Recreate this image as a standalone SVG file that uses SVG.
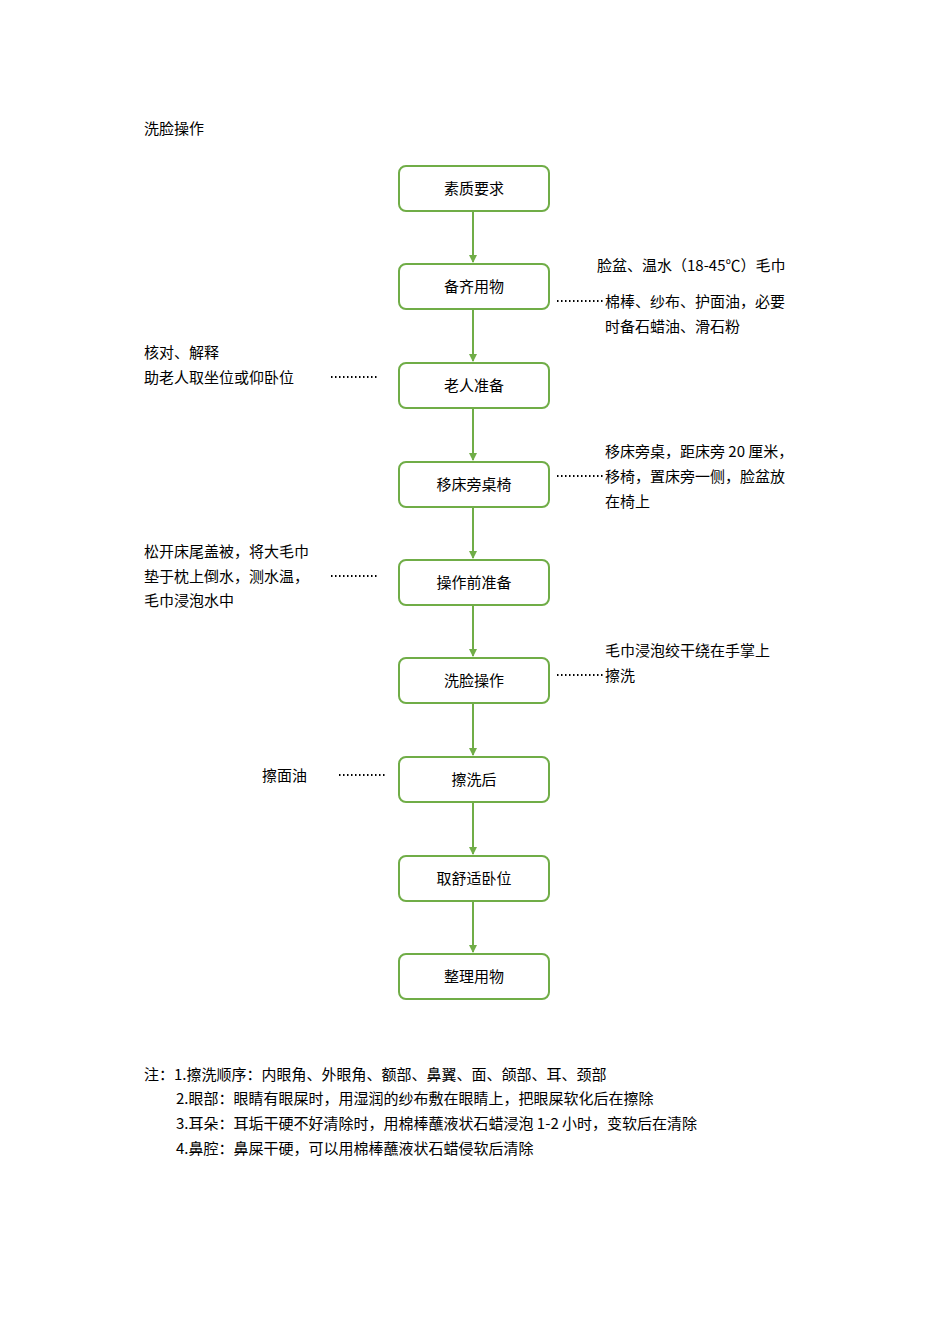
<svg xmlns="http://www.w3.org/2000/svg" width="950" height="1344" viewBox="0 0 950 1344">
<style>
text{font-family:"Noto Sans CJK SC","Liberation Sans",sans-serif;font-size:15px;fill:#000}
.n rect{fill:#fff;stroke:#70ad47;stroke-width:2}
.n text{text-anchor:middle}
.c line{stroke:#70ad47;stroke-width:2}
.d line{stroke:#000;stroke-width:2;stroke-dasharray:1.5 2.5}
</style>
<defs><marker id="a" markerWidth="8" markerHeight="8" refX="7" refY="4" orient="auto" markerUnits="userSpaceOnUse"><path d="M0,0L8,4L0,8z" fill="#70ad47"/></marker></defs>
<rect width="950" height="1344" fill="#fff"/>
<text x="144" y="134">洗脸操作</text>
<g class="c">
<line x1="473" y1="212" x2="473" y2="262" marker-end="url(#a)"/>
<line x1="473" y1="310" x2="473" y2="361" marker-end="url(#a)"/>
<line x1="473" y1="409" x2="473" y2="460" marker-end="url(#a)"/>
<line x1="473" y1="508" x2="473" y2="558" marker-end="url(#a)"/>
<line x1="473" y1="606" x2="473" y2="656" marker-end="url(#a)"/>
<line x1="473" y1="704" x2="473" y2="755" marker-end="url(#a)"/>
<line x1="473" y1="803" x2="473" y2="854" marker-end="url(#a)"/>
<line x1="473" y1="902" x2="473" y2="952" marker-end="url(#a)"/>
</g>
<g class="d">
<line x1="557" y1="301" x2="603" y2="301"/>
<line x1="331" y1="377" x2="377" y2="377"/>
<line x1="557" y1="476" x2="603" y2="476"/>
<line x1="331" y1="576" x2="377" y2="576"/>
<line x1="557" y1="675" x2="603" y2="675"/>
<line x1="339" y1="775" x2="385" y2="775"/>
</g>
<g id="n1" class="n"><rect x="399" y="166" width="150" height="45" rx="7"/><text x="474" y="194">素质要求</text></g>
<g id="n2" class="n"><rect x="399" y="264" width="150" height="45" rx="7"/><text x="474" y="292">备齐用物</text></g>
<g id="n3" class="n"><rect x="399" y="363" width="150" height="45" rx="7"/><text x="474" y="391">老人准备</text></g>
<g id="n4" class="n"><rect x="399" y="462" width="150" height="45" rx="7"/><text x="474" y="490">移床旁桌椅</text></g>
<g id="n5" class="n"><rect x="399" y="560" width="150" height="45" rx="7"/><text x="474" y="588">操作前准备</text></g>
<g id="n6" class="n"><rect x="399" y="658" width="150" height="45" rx="7"/><text x="474" y="686">洗脸操作</text></g>
<g id="n7" class="n"><rect x="399" y="757" width="150" height="45" rx="7"/><text x="474" y="785">擦洗后</text></g>
<g id="n8" class="n"><rect x="399" y="856" width="150" height="45" rx="7"/><text x="474" y="884">取舒适卧位</text></g>
<g id="n9" class="n"><rect x="399" y="954" width="150" height="45" rx="7"/><text x="474" y="982">整理用物</text></g>
<text x="597" y="271">脸盆、温水（18-45℃）毛巾</text>
<text x="605" y="307">棉棒、纱布、护面油，必要</text>
<text x="605" y="332">时备石蜡油、滑石粉</text>
<text x="144" y="358">核对、解释</text>
<text x="144" y="383">助老人取坐位或仰卧位</text>
<text x="605" y="457">移床旁桌，距床旁 20 厘米，</text>
<text x="605" y="482">移椅，置床旁一侧，脸盆放</text>
<text x="605" y="507">在椅上</text>
<text x="144" y="557">松开床尾盖被，将大毛巾</text>
<text x="144" y="582">垫于枕上倒水，测水温，</text>
<text x="144" y="606">毛巾浸泡水中</text>
<text x="605" y="656">毛巾浸泡绞干绕在手掌上</text>
<text x="605" y="681">擦洗</text>
<text x="262" y="781">擦面油</text>
<text x="144" y="1080">注：1.擦洗顺序：内眼角、外眼角、额部、鼻翼、面、颌部、耳、颈部</text>
<text x="176" y="1104">2.眼部：眼睛有眼屎时，用湿润的纱布敷在眼睛上，把眼屎软化后在擦除</text>
<text x="176" y="1129">3.耳朵：耳垢干硬不好清除时，用棉棒蘸液状石蜡浸泡 1-2 小时，变软后在清除</text>
<text x="176" y="1154">4.鼻腔：鼻屎干硬，可以用棉棒蘸液状石蜡侵软后清除</text>
</svg>
